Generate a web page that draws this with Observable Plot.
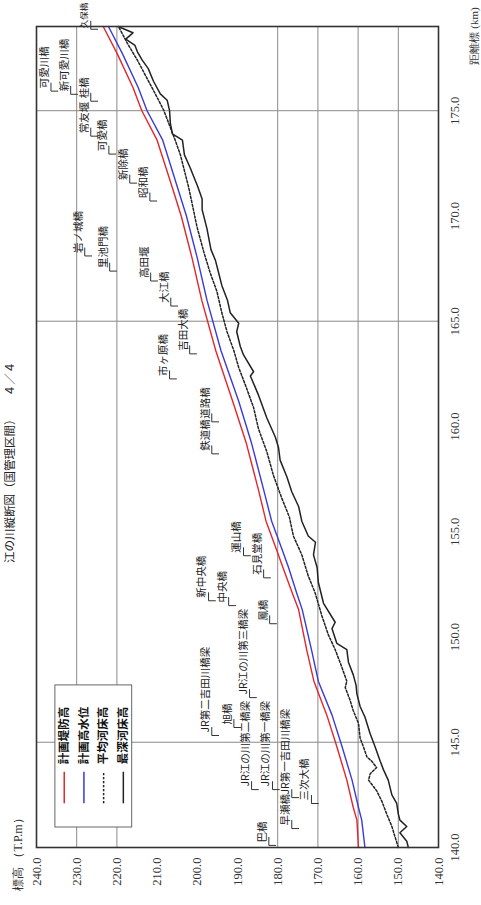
<!DOCTYPE html>
<html><head><meta charset="utf-8">
<script src="https://cdn.jsdelivr.net/npm/d3@7"></script>
<script src="https://cdn.jsdelivr.net/npm/@observablehq/plot@0.6"></script>
<style>
html,body{margin:0;padding:0;background:#fff;}
#chart{width:481px;height:905px;overflow:hidden;}
svg{display:block;}
</style></head><body><div id="chart"></div>
<script>
// ---- data (distance km, elevation T.P.m) ----
const titleText = "江の川縦断図（国管理区間）　　４／４";
const elevLabel = "標高 （T.P.m）";
const distLabel = "距離標 (km)";
const elevTicks = [140,150,160,170,180,190,200,210,220,230,240];
const distTicks = [140,145,150,155,160,165,170,175];
const gridElev = [150,160,170,180,220,230];
const gridDist = [145,165,175];

const seriesNames = ["計画堤防高","計画高水位","平均河床高","最深河床高"];
const seriesColors = ["#e2262b","#3a3ad8","#222","#222"];
const seriesDash = [null,null,"2.2,1.8",null];

const kmPlan = [140.0,141.3,141.9,143.2,144.8,146.3,147.9,149.4,151.3,152.1,153.3,154.2,155.5,157.0,159.2,161.2,163.6,166.0,168.0,170.0,171.4,173.6,175.0,176.1,177.7,179.0];
const levee  = [159.9,160.3,161.2,162.8,165.3,167.8,171.0,172.8,174.8,176.4,178.7,180.4,182.9,184.8,187.8,191.2,195.4,198.9,201.3,204.0,206.3,210.0,213.8,216.0,219.9,223.4];
const hwl    = [158.3,159.1,159.9,161.5,164.0,166.5,169.9,171.6,173.9,175.3,177.3,179.0,181.5,183.5,186.5,189.7,194.1,197.6,200.0,202.7,205.0,208.6,212.5,214.7,218.6,222.1];

const kmAvg  = [140.0,140.5,141.0,141.6,142.2,142.7,143.2,143.5,143.8,144.1,144.3,144.8,145.2,145.9,146.5,147.0,147.6,147.9,148.8,149.4,150.1,151.0,152.1,152.9,153.9,154.8,155.7,156.6,157.7,158.8,159.9,160.9,162.0,162.8,163.6,164.5,165.4,166.4,167.3,168.3,169.5,170.6,171.4,172.0,172.9,173.6,174.2,175.0,175.6,176.5,177.4,178.2,179.0];
const avgBed = [150.0,150.8,151.6,152.9,154.1,155.4,157.4,157.0,155.4,156.6,157.8,158.7,159.5,159.9,161.2,162.0,163.2,162.8,164.5,165.7,167.4,169.0,170.7,172.4,174.0,176.1,177.1,179.0,181.1,182.7,184.8,186.0,188.1,189.7,190.9,192.6,193.9,195.1,196.8,198.4,200.1,201.3,202.2,203.0,204.2,205.5,206.7,208.3,209.9,212.4,214.9,217.4,219.6];

const kmDeep  = [140.0,140.3,140.7,141.0,141.3,141.6,142.1,142.5,143.2,143.7,144.1,144.8,145.4,146.2,146.7,147.3,147.7,148.2,148.8,149.4,149.7,150.4,150.7,151.6,152.6,153.3,153.9,154.5,154.8,155.5,156.2,156.9,157.6,158.4,159.0,159.5,160.4,161.5,162.4,162.6,163.4,163.8,164.5,164.9,165.4,166.0,166.7,167.3,167.9,168.4,169.4,170.3,170.8,171.4,172.3,172.9,173.6,173.9,174.4,175.0,175.5,175.8,176.4,177.0,177.4,177.8,178.1,178.4,178.7,179.0];
const deepBed = [147.5,147.9,149.6,147.9,149.6,150.0,150.4,151.6,152.5,153.7,154.5,155.8,157.0,158.3,159.5,160.3,160.5,161.2,162.4,162.8,165.3,166.5,165.7,168.6,169.9,170.2,171.1,170.6,172.4,174.0,174.8,176.5,177.7,179.4,179.8,180.6,182.7,184.8,186.8,186.0,188.5,189.3,190.2,189.7,191.8,192.5,193.9,194.7,195.5,196.6,197.6,198.8,198.8,199.9,201.8,203.2,203.7,206.2,206.7,206.9,207.5,209.2,210.9,212.2,213.7,214.9,215.5,217.8,216.0,219.7];

const bridgeNames = ["久保橋","可愛川橋","新可愛川橋","桂橋","常友堰","可愛橋","新除橋","昭和橋","岩ノ城橋","里池門橋","高田堰","大江橋","吉田大橋","市ヶ原橋","鉄道橋","道路橋","運山橋","石見堂橋","新中央橋","中央橋","鳳橋","JR江の川第三橋梁","JR第二吉田川橋梁","旭橋","JR江の川第二橋梁","JR江の川第一橋梁","JR第一吉田川橋梁","早瀬橋","三次大橋","巴橋"];
const bridgeKm    = [178.87,175.93,175.78,175.45,173.79,172.94,171.56,170.71,168.10,167.38,166.91,165.72,163.45,162.26,158.70,160.22,153.86,152.81,151.72,151.49,150.63,147.12,145.32,145.70,142.75,142.75,142.37,140.90,142.09,140.10];
const bridgeElev  = [228.1,238.0,233.1,228.1,228.1,223.6,218.4,213.4,229.6,223.4,213.2,208.2,203.5,208.5,198.0,198.0,190.1,185.1,198.8,193.8,183.6,188.6,198.0,192.5,188.1,182.9,178.1,178.1,173.2,183.8];

// ---- build tables ----
const toRows = (ks, vs) => ks.map((k, i) => ({km: k, e: vs[i]}));
const seriesRows = [toRows(kmPlan, levee), toRows(kmPlan, hwl), toRows(kmAvg, avgBed), toRows(kmDeep, deepBed)];
const bridges = bridgeNames.map((n, i) => ({name: n, km: bridgeKm[i], e: bridgeElev[i]}));

// legend placement (in chart units)
const legendBox = {e1: 235.3, e2: 216.2, k1: 140.95, k2: 147.7};
const legendItems = seriesNames.map((n, i) => ({name: n, e: 233.1 - i * 4.9, color: seriesColors[i], dash: seriesDash[i]}));

const jp = "'Noto Sans CJK JP', 'Noto Sans', sans-serif";
const serif = "'Liberation Serif', 'DejaVu Serif', serif";

const marks = [
  Plot.ruleX(gridElev, {stroke: "#8a8a8a", strokeWidth: 1}),
  Plot.ruleY(gridDist, {stroke: "#8a8a8a", strokeWidth: 1}),
  Plot.rect([legendBox], {x1: "e1", x2: "e2", y1: "k1", y2: "k2", fill: "#fff", stroke: "#666", strokeWidth: 1})
];
seriesRows.forEach((rows, i) => {
  marks.push(Plot.line(rows, {x: "e", y: "km", stroke: seriesColors[i], strokeWidth: i >= 2 ? 1.5 : 1.4, strokeDasharray: seriesDash[i] || undefined}));
});
legendItems.forEach(d => {
  marks.push(Plot.link([d], {x1: "e", x2: "e", y1: () => 142.1, y2: () => 143.6, stroke: d.color, strokeWidth: 1.5, strokeDasharray: d.dash || undefined}));
});
marks.push(
  Plot.text(legendItems, {x: "e", y: () => 143.95, text: "name", rotate: -90, textAnchor: "start", lineAnchor: "middle", fontSize: 11.5, fontWeight: 600, fontFamily: jp, fill: "#111"}),
  // bridge leaders
  Plot.link(bridges, {x1: d => d.e - 1.6, x2: d => d.e - 3.4, y1: "km", y2: "km", stroke: "#333", strokeWidth: 1}),
  Plot.link(bridges, {x1: d => d.e - 1.6, x2: d => d.e - 1.6, y1: "km", y2: d => d.km + 0.4, stroke: "#333", strokeWidth: 1}),
  Plot.text(bridges.slice(1), {x: "e", y: "km", text: "name", rotate: -90, textAnchor: "start", lineAnchor: "middle", dy: -3, fontSize: 10.5, fontFamily: jp, fill: "#222"}),
  Plot.text(bridges.slice(0, 1), {x: "e", y: "km", text: "name", rotate: -90, textAnchor: "start", lineAnchor: "middle", dy: -1, fontSize: 8.5, fontFamily: jp, fill: "#222"}),
  Plot.frame({stroke: "#333", strokeWidth: 1.6}),
  Plot.axisX(elevTicks, {anchor: "bottom", tickSize: 0, tickPadding: 10, tickRotate: -90, textAnchor: "end", lineAnchor: "middle", tickFormat: d => d.toFixed(1), fontSize: 12.5, fontFamily: serif, fill: "#333", label: null}),
  Plot.axisY(distTicks, {anchor: "right", tickSize: 0, tickPadding: 12, tickRotate: -90, textAnchor: "middle", lineAnchor: "top", tickFormat: d => d.toFixed(1), fontSize: 12.5, fontFamily: serif, fill: "#333", label: null}),
  Plot.text([titleText], {frameAnchor: "left", rotate: -90, textAnchor: "start", lineAnchor: "middle", dx: -26, dy: 126, fontSize: 11.5, fontFamily: jp, fill: "#222"}),
  Plot.text([elevLabel], {frameAnchor: "bottom-left", rotate: -90, textAnchor: "start", lineAnchor: "middle", dx: -18, dy: 43, fontSize: 12, fontFamily: serif, fill: "#333"}),
  Plot.text([distLabel], {frameAnchor: "top-right", rotate: -90, textAnchor: "start", lineAnchor: "middle", dx: 36, dy: 38, fontSize: 11, fontFamily: serif, fill: "#333"})
);

const chart = Plot.plot({
  width: 481, height: 905,
  marginLeft: 36, marginRight: 43, marginTop: 26, marginBottom: 58,
  style: {fontFamily: jp, fontSize: "10px", background: "#fff", color: "#222"},
  x: {domain: [240, 140]},
  y: {domain: [140, 179]},
  marks
});
document.getElementById("chart").appendChild(chart);
</script>
</body></html>
